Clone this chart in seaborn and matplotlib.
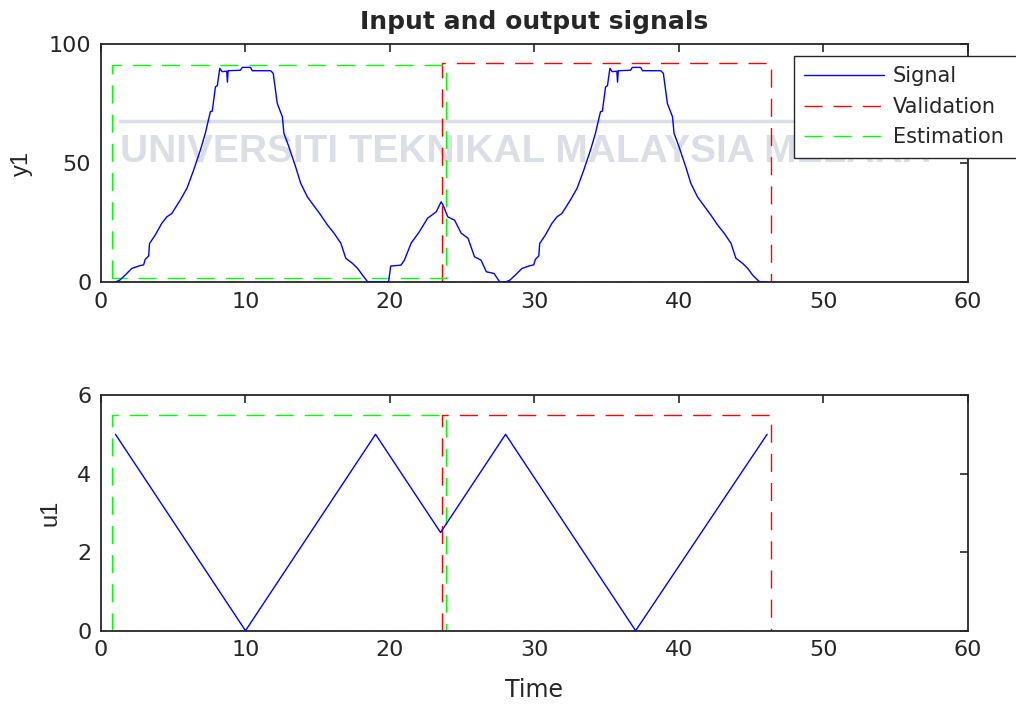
"""
Input / output signals of the identification experiment (estimation and validation sets).
Writes out.png.
"""

import matplotlib
matplotlib.use("Agg")
import matplotlib.pyplot as plt
import numpy as np
import pandas as pd
import seaborn as sns

# ------------------------------------------------------------------ #
# Data                                        #
# ------------------------------------------------------------------ #
# output y1, estimation part
est_time = [1.0, 1.3, 1.67, 2.13, 2.7, 2.95, 3.06, 3.3, 3.36, 3.75, 4.2, 4.56,
            4.9, 5.49, 5.95, 6.41, 6.88, 7.22, 7.57, 7.7, 7.92, 8.05, 8.22,
            8.38, 8.7, 8.75, 8.8, 9.65, 9.77, 10.35, 10.47, 11.74, 11.92,
            12.2, 12.55, 12.66, 13.0, 13.47, 13.82, 14.28, 14.86, 15.2,
            15.67, 16.13, 16.6, 16.94, 17.41, 17.76, 18.1, 18.45, 19.9,
            20.05, 20.76, 21.0, 21.46, 22.03, 22.6, 23.2]
est_y1 = [0.0, 0.8, 2.9, 5.7, 6.9, 7.2, 9.5, 11.0, 16.2, 19.7, 24.6, 27.4,
          28.8, 34.5, 39.4, 47.0, 55.5, 62.5, 71.6, 71.8, 82.0, 82.5, 89.8,
          88.4, 88.6, 84.0, 88.8, 89.0, 90.2, 90.2, 88.8, 88.8, 87.7,
          75.0, 69.5, 62.5, 56.9, 48.4, 41.5, 35.8, 31.0, 28.2,
          24.0, 20.5, 16.3, 10.0, 7.8, 5.7, 2.9, 0.1, 0.0,
          6.7, 7.1, 9.2, 16.3, 21.1, 26.8, 29.5]

# output y1, validation part
val_time = [23.54, 23.7, 24.0, 24.47, 24.93, 25.4, 25.85, 26.3, 26.67, 27.2,
            27.6, 28.0, 28.3, 28.67, 29.13, 29.7, 29.95, 30.06, 30.3, 30.36,
            30.75, 31.2, 31.56, 31.9, 32.49, 32.95, 33.41, 33.88, 34.22,
            34.57, 34.7, 34.92, 35.05, 35.22, 35.38, 35.7, 35.75, 35.8,
            36.65, 36.77, 37.35, 37.47, 38.74, 38.92, 39.2, 39.55, 39.66,
            40.0, 40.47, 40.82, 41.28, 41.86, 42.2, 42.67, 43.13, 43.6,
            43.94, 44.41, 44.76, 45.1, 45.45, 45.6, 46.1]
val_y1 = [33.7, 32.0, 27.4, 26.0, 20.5, 18.4, 10.6, 9.2, 4.3, 3.6,
          0.0, 0.0, 0.8, 2.9, 5.7, 6.9, 7.2, 9.5, 11.0, 16.2,
          19.7, 24.6, 27.4, 28.8, 34.5, 39.4, 47.0, 55.5, 62.5,
          71.6, 71.8, 82.0, 82.5, 89.8, 88.4, 88.6, 84.0, 88.8,
          89.0, 90.2, 90.2, 88.8, 88.8, 87.7, 75.0, 69.5, 62.5,
          56.9, 48.4, 41.5, 35.8, 31.0, 28.2, 24.0, 20.5, 16.3,
          10.0, 7.8, 5.7, 2.9, 0.8, 0.0, 0.0]

# input u1 (triangle ramps)
u_time = [1.0, 10.0, 19.0, 23.5, 28.0, 37.0, 46.1]
u1 = [5.0, 0.0, 5.0, 2.5, 5.0, 0.0, 5.0]

# data-set extent boxes: [start, end] in time, [low, high] in value
est_span = [0.75, 23.9]
val_span = [23.6, 46.4]
est_box_y1 = [1.5, 91.0]
val_box_y1 = [0.2, 92.0]
est_box_u1 = [0.0, 5.5]
val_box_u1 = [0.0, 5.5]

X_TICKS = [0, 10, 20, 30, 40, 50, 60]
Y1_TICKS = [0, 50, 100]
U1_TICKS = [0, 2, 4, 6]

BLUE, RED, GREEN = "#0000FF", "#FF0000", "#00FF00"
DASHES = (13, 8)

sns.set_theme(style="white")
plt.rcParams.update({
    "font.family": ["DejaVu Sans"],
    "axes.edgecolor": "#262626",
    "axes.linewidth": 1.3,
    "xtick.color": "#262626",
    "ytick.color": "#262626",
    "text.color": "#262626",
})


def draw_box(ax, span, lim, color):
    xs = [span[0], span[0], span[1], span[1], span[0]]
    ys = [lim[0], lim[1], lim[1], lim[0], lim[0]]
    ax.plot(xs, ys, color=color, linewidth=1.0, dashes=DASHES, zorder=2)


def style_axis(ax, yticks, ylabel):
    ax.set_xlim(0, 60)
    ax.set_ylim(yticks[0], yticks[-1])
    ax.set_xticks(X_TICKS)
    ax.set_yticks(yticks)
    ax.tick_params(direction="in", top=True, right=True, length=6, width=1.2,
                   labelsize=16, pad=7)
    ax.set_ylabel(ylabel, fontsize=17, family="Liberation Sans", labelpad=11)
    ax.set_xlabel("")
    for sp in ax.spines.values():
        sp.set_visible(True)


fig = plt.figure(figsize=(10.16, 7.04), dpi=100)
ax1 = fig.add_axes([0.0994, 0.5994, 0.8533, 0.338])
ax2 = fig.add_axes([0.0994, 0.1041, 0.8533, 0.3348])

# watermark of the source document
ax1.text(0.49, 0.546, "UNIVERSITI TEKNIKAL MALAYSIA MELAKA", transform=ax1.transAxes,
         ha="center", va="center", fontsize=28, fontweight="bold",
         family="Liberation Sans", color="#dcdee6", zorder=0.5)
ax1.plot([0.022, 0.968], [0.676, 0.676], transform=ax1.transAxes,
         color="#dcdee6", linewidth=2.5, zorder=0.5)

# ---- top: output ----
draw_box(ax1, val_span, val_box_y1, RED)
draw_box(ax1, est_span, est_box_y1, GREEN)
y_df = pd.DataFrame({"Time": est_time + val_time, "y1": est_y1 + val_y1})
sns.lineplot(data=y_df, x="Time", y="y1", ax=ax1, color=BLUE, linewidth=1.0,
             estimator=None, sort=False, zorder=3)
style_axis(ax1, Y1_TICKS, "y1")
ax1.set_title("Input and output signals", fontsize=18, fontweight="bold", pad=11)

# ---- bottom: input ----
draw_box(ax2, val_span, val_box_u1, RED)
draw_box(ax2, est_span, est_box_u1, GREEN)
u_df = pd.DataFrame({"Time": u_time, "u1": u1})
sns.lineplot(data=u_df, x="Time", y="u1", ax=ax2, color=BLUE, linewidth=1.0,
             estimator=None, sort=False, zorder=3)
style_axis(ax2, U1_TICKS, "u1")
ax2.set_xlabel("Time", fontsize=17, labelpad=13)

# legend (its right side runs past the figure edge like the original)
handles = [
    plt.Line2D([], [], color=BLUE, linewidth=1.0),
    plt.Line2D([], [], color=RED, linewidth=1.0, dashes=DASHES),
    plt.Line2D([], [], color=GREEN, linewidth=1.0, dashes=DASHES),
]
leg = fig.legend(handles, ["Signal", "Validation", "Estimation   "],
                 loc="upper left", bbox_to_anchor=(794 / 1016, 1 - 56 / 704),
                 bbox_transform=fig.transFigure, fontsize=15, frameon=True,
                 fancybox=False, framealpha=1, edgecolor="#262626",
                 handlelength=3.8, handletextpad=0.45, labelspacing=0.5,
                 borderpad=0.5, borderaxespad=0)
leg.get_frame().set_linewidth(1.0)

fig.savefig("out.png", dpi=100)
